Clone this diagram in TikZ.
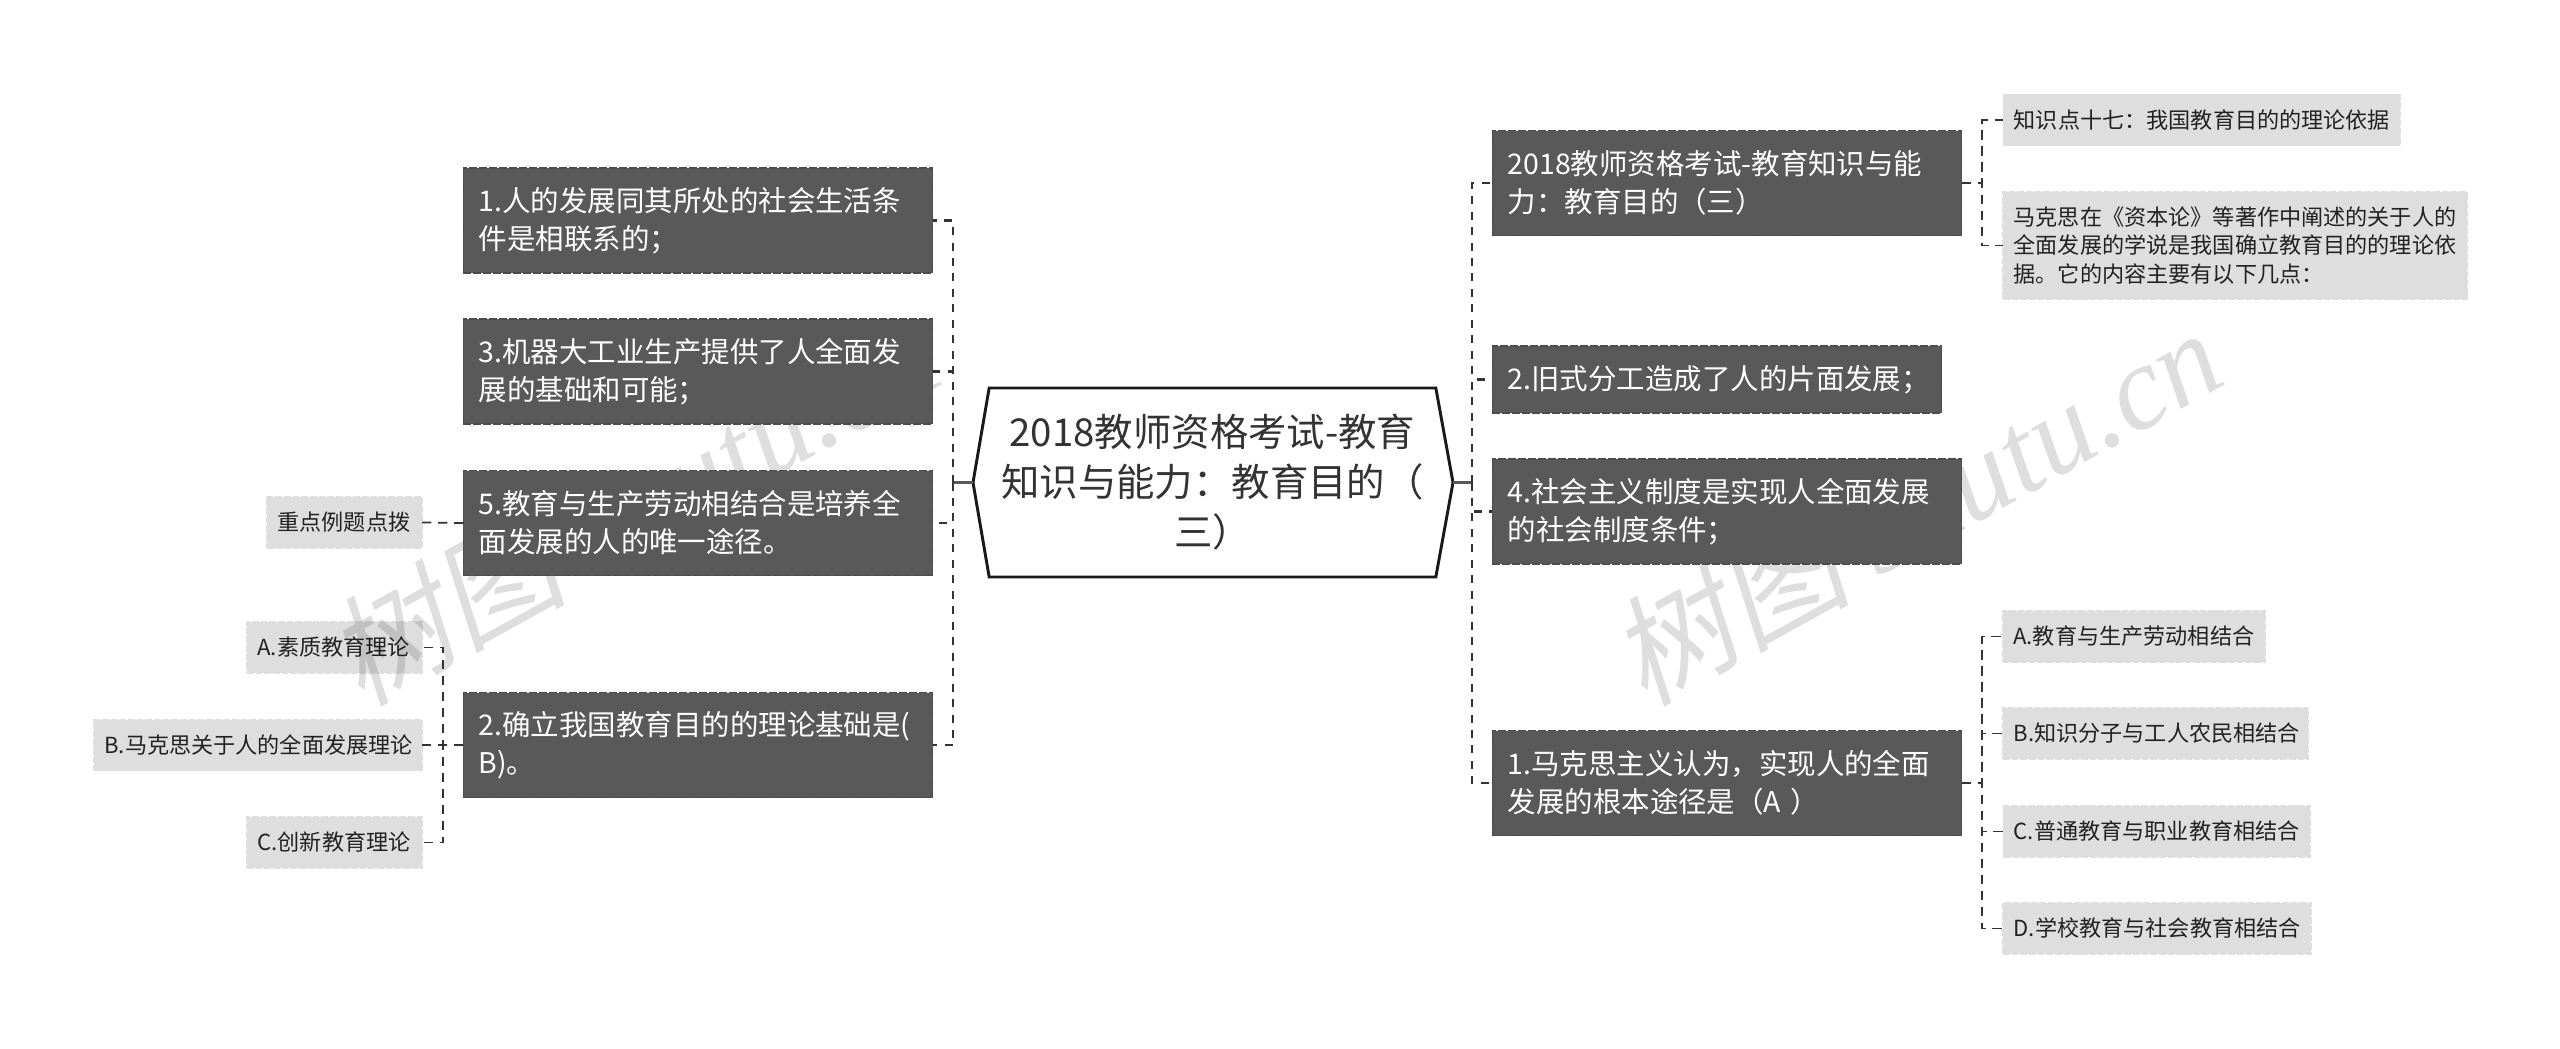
\documentclass[tikz,border=0pt]{standalone}
\usepackage{fontspec}
\setmainfont{Noto Sans CJK SC}
\newfontfamily\wmcjk[FakeSlant=0.2]{Noto Sans CJK SC}
\newfontfamily\wmlat{Liberation Serif}[ItalicFont=* Italic]
\definecolor{dk}{HTML}{595959}
\definecolor{lt}{HTML}{DEDEDE}
\definecolor{ink}{HTML}{333333}
\definecolor{leafink}{HTML}{222222}
\definecolor{wm}{HTML}{DEDEDE}
\tikzset{
  darkbox/.style={fill=dk,draw=dk!85!black,dashed,dash pattern=on 6pt off 1.5pt,line width=1pt,text=white,align=left,
    inner xsep=11.5pt,inner ysep=0pt,outer sep=0pt,font=\fontsize{21.35pt}{28.5pt}\selectfont},
  lightbox/.style={fill=lt,draw=lt,dash pattern=on 5pt off 1.5pt,line width=1pt,text=leafink,align=left,
    inner xsep=8pt,inner ysep=0pt,outer sep=0pt,font=\fontsize{16.6pt}{21.6pt}\selectfont},
  rootbox/.style={inner sep=0pt,outer sep=0pt,align=center,text=ink,font=\fontsize{28.8pt}{37.5pt}\selectfont},
  rootline/.style={draw=black!90,line width=2.2pt,line join=miter},
  stub/.style={draw=dk,line width=2.2pt},
  mainlink/.style={draw=ink,line width=2pt,dash pattern=on 6pt off 5.6pt},
  sublink/.style={draw=ink,line width=1.3pt,dash pattern=on 7pt off 5pt},
  mark wm/.style={text=wm,rotate=29,inner sep=0pt},
}
\begin{document}
\begin{tikzpicture}[x=0.75pt,y=-0.75pt]
\useasboundingbox[fill=white] (0,0) rectangle (2560,1049);
% left leaves
\node[lightbox,text width=100.5pt,minimum height=38.25pt] (k5) at (344.5,522.5) {重点例题点拨};
\node[lightbox,text width=115.5pt,minimum height=38.25pt] (ka) at (334.5,647.5) {A.素质教育理论};
\node[lightbox,text width=230.5pt,minimum height=38.25pt] (kb) at (258,745) {B.马克思关于人的全面发展理论};
\node[lightbox,text width=115.5pt,minimum height=38.25pt] (kc) at (334.5,842.5) {C.创新教育理论};
% right leaves
\node[lightbox,text width=281.5pt,minimum height=38.25pt] (p1) at (2201.5,120) {知识点十七：我国教育目的的理论依据};
\node[lightbox,text width=332pt,minimum height=80.25pt] (p2) at (2235,245.5) {马克思在《资本论》等著作中阐述的关于人的\\全面发展的学说是我国确立教育目的的理论依\\据。它的内容主要有以下几点：};
\node[lightbox,text width=181pt,minimum height=38.25pt] (q1) at (2134,636.5) {A.教育与生产劳动相结合};
\node[lightbox,text width=213pt,minimum height=38.25pt] (q2) at (2155.5,733.5) {B.知识分子与工人农民相结合};
\node[lightbox,text width=214pt,minimum height=38.25pt] (q3) at (2156.5,831.5) {C.普通教育与职业教育相结合};
\node[lightbox,text width=215pt,minimum height=38.25pt] (q4) at (2157,928.5) {D.学校教育与社会教育相结合};
% watermarks, multiplied over the light boxes, under the dark ones
\begin{scope}[blend mode=multiply]
\node[mark wm] (wa) at (632,505) {\fontsize{90pt}{90pt}\selectfont\wmcjk 树图 \wmlat\itshape shutu.cn};
\node[mark wm] (wb) at (1915,505) {\fontsize{90pt}{90pt}\selectfont\wmcjk 树图 \wmlat\itshape shutu.cn};
\end{scope}
% root
\node[rootbox,minimum width=335pt,minimum height=141.75pt] (root) at (1212.5,482.5) {2018教师资格考试-教育\\知识与能力：教育目的（\\三）};
\coordinate (tipL) at (973,482.5);
\coordinate (tipR) at (1453,482.5);
\draw[rootline] (tipL) -- (root.north west) -- (root.north east) -- (tipR) -- (root.south east) -- (root.south west) -- cycle;
\coordinate (busL) at (953,482.5);
\coordinate (busR) at (1472,482.5);
% left main
\node[darkbox,text width=329pt,minimum height=78.75pt] (l1) at (698,220.5) {1.人的发展同其所处的社会生活条\\件是相联系的；};
\node[darkbox,text width=329pt,minimum height=78.75pt] (l3) at (698,371.5) {3.机器大工业生产提供了人全面发\\展的基础和可能；};
\node[darkbox,text width=329pt,minimum height=78.75pt] (l5) at (698,523) {5.教育与生产劳动相结合是培养全\\面发展的人的唯一途径。};
\node[darkbox,text width=329pt,minimum height=78.75pt] (l2) at (698,745) {2.确立我国教育目的的理论基础是(\\B)。};
% right main
\node[darkbox,text width=329pt,minimum height=78.75pt] (r1) at (1727,183) {2018教师资格考试-教育知识与能\\力：教育目的（三）};
\node[darkbox,text width=314pt,minimum height=50.25pt] (r2) at (1717,379.5) {2.旧式分工造成了人的片面发展；};
\node[darkbox,text width=329pt,minimum height=78.75pt] (r3) at (1727,511.5) {4.社会主义制度是实现人全面发展\\的社会制度条件；};
\node[darkbox,text width=329pt,minimum height=78.75pt] (r4) at (1727,783) {1.马克思主义认为，实现人的全面\\发展的根本途径是（A ）};
% root stubs
\draw[stub] (tipL) -- (busL);
\draw[stub] (tipR) -- (busR);
% main connectors
\foreach \n in {l1,l3,l5,l2} \draw[mainlink] (busL) |- (\n.east);
\foreach \n in {r1,r2,r3,r4} \draw[mainlink] (busR) |- (\n.west);
% sub connectors
\draw[sublink] (l5.west) -- (k5.east);
\foreach \n in {ka,kb,kc} \draw[sublink] (l2.west) -- ++(-20,0) |- (\n.east);
\foreach \n in {p1,p2} \draw[sublink] (r1.east) -- ++(20.5,0) |- (\n.west);
\foreach \n in {q1,q2,q3,q4} \draw[sublink] (r4.east) -- ++(20.5,0) |- (\n.west);
\end{tikzpicture}
\end{document}
